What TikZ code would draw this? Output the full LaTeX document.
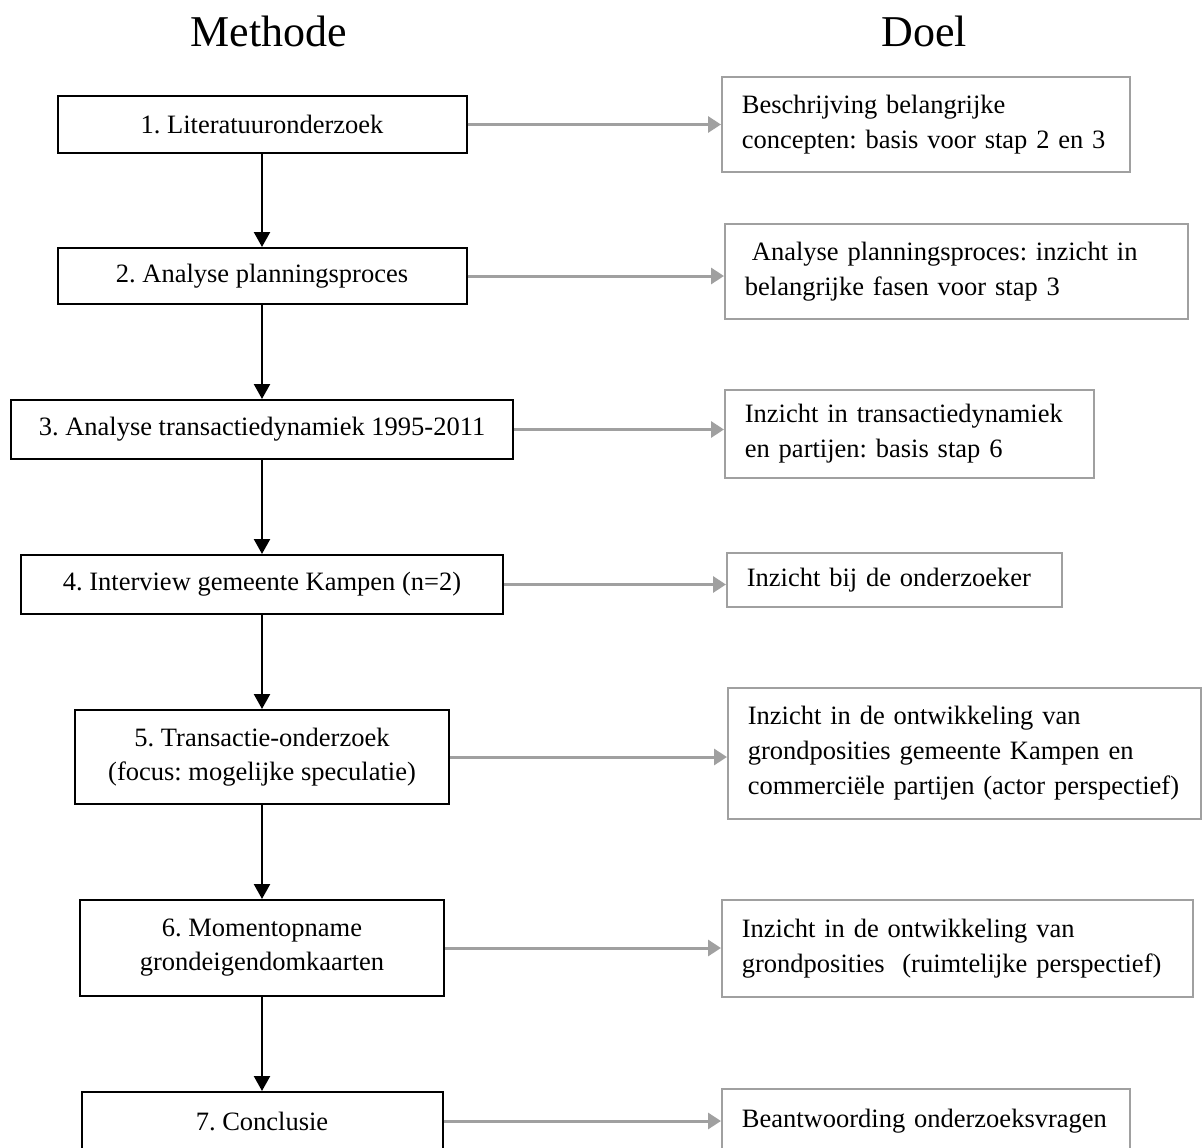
\documentclass[tikz,border=0pt]{standalone}
\usepackage{fontspec}
\setmainfont{Liberation Serif}
\usetikzlibrary{arrows.meta}
\definecolor{lijngrijs}{RGB}{160,160,160}
\frenchspacing

\begin{document}
\begin{tikzpicture}[x=1pt,y=-1pt,
    methode/.style={draw, line width=2pt, align=center, inner sep=0pt,
        font=\fontsize{26.5}{34}\selectfont},
    doel/.style={draw=lijngrijs, line width=1.8pt, align=left, anchor=north west,
        inner xsep=20pt, inner ysep=0pt, font=\fontsize{26.5}{35}\selectfont},
    stap/.style={-{Triangle[length=15pt,width=16pt]}, line width=2.3pt},
    uitkomst/.style={-{Triangle[length=13pt,width=16pt]}, lijngrijs, line width=3pt},
    kop/.style={anchor=base, font=\fontsize{44}{50}\selectfont}]
        \path[use as bounding box, fill=white] (0,0) rectangle (1203,1148);
        \clip (0,0) rectangle (1203,1148);
        % Koppen
        \node[kop] (methode) at (269,47) {Methode};
        \node[kop] (doel) at (924,47) {Doel};
        % Methode
        \node[methode, minimum width=409pt, minimum height=57pt] (m1) at (262,124.5) {1. Literatuuronderzoek};
        \node[methode, minimum width=409pt, minimum height=56pt] (m2) at (262,276) {2. Analyse planningsproces};
        \node[methode, minimum width=502pt, minimum height=59pt] (m3) at (262,429.5) {3. Analyse transactiedynamiek 1995-2011};
        \node[methode, minimum width=482pt, minimum height=59pt] (m4) at (262,584.5) {4. Interview gemeente Kampen (n=2)};
        \node[methode, minimum width=374pt, minimum height=94pt] (m5) at (262,757) {5. Transactie-onderzoek\\(focus: mogelijke speculatie)};
        \node[methode, minimum width=364pt, minimum height=96pt] (m6) at (262,948) {6. Momentopname\\grondeigendomkaarten};
        \node[methode, minimum width=361pt, minimum height=58pt] (m7) at (262,1121) {7. Conclusie};
        % Doel
        \node[doel, text width=368pt, minimum height=95pt] (d1) at (721,76) {Beschrijving belangrijke\\concepten: basis voor stap 2 en 3};
        \node[doel, text width=423pt, minimum height=95pt] (d2) at (724,223) {\hspace*{7pt}Analyse planningsproces: inzicht in\\belangrijke fasen voor stap 3};
        \node[doel, text width=329pt, minimum height=88pt] (d3) at (724,389) {Inzicht in transactiedynamiek\\en partijen: basis stap 6};
        \node[doel, text width=295pt, minimum height=54pt] (d4) at (726,552) {Inzicht bij de onderzoeker};
        \node[doel, text width=433pt, minimum height=131pt] (d5) at (727,687) {Inzicht in de ontwikkeling van\\grondposities gemeente Kampen en\\commerciële partijen (actor perspectief)};
        \node[doel, text width=431pt, minimum height=97pt] (d6) at (721,899) {Inzicht in de ontwikkeling van\\grondposities\ \ (ruimtelijke perspectief)};
        \node[doel, text width=368pt, minimum height=64pt] (d7) at (721,1088) {Beantwoording onderzoeksvragen};
        % pijlen
        \foreach \i [count=\j from 2] in {1,...,6}
            \draw[stap] (m\i) -- (m\j);
        \foreach \i in {1,...,7}
            \draw[uitkomst] (m\i.east) -- (m\i.east -| d\i.west);
\end{tikzpicture}
\end{document}
